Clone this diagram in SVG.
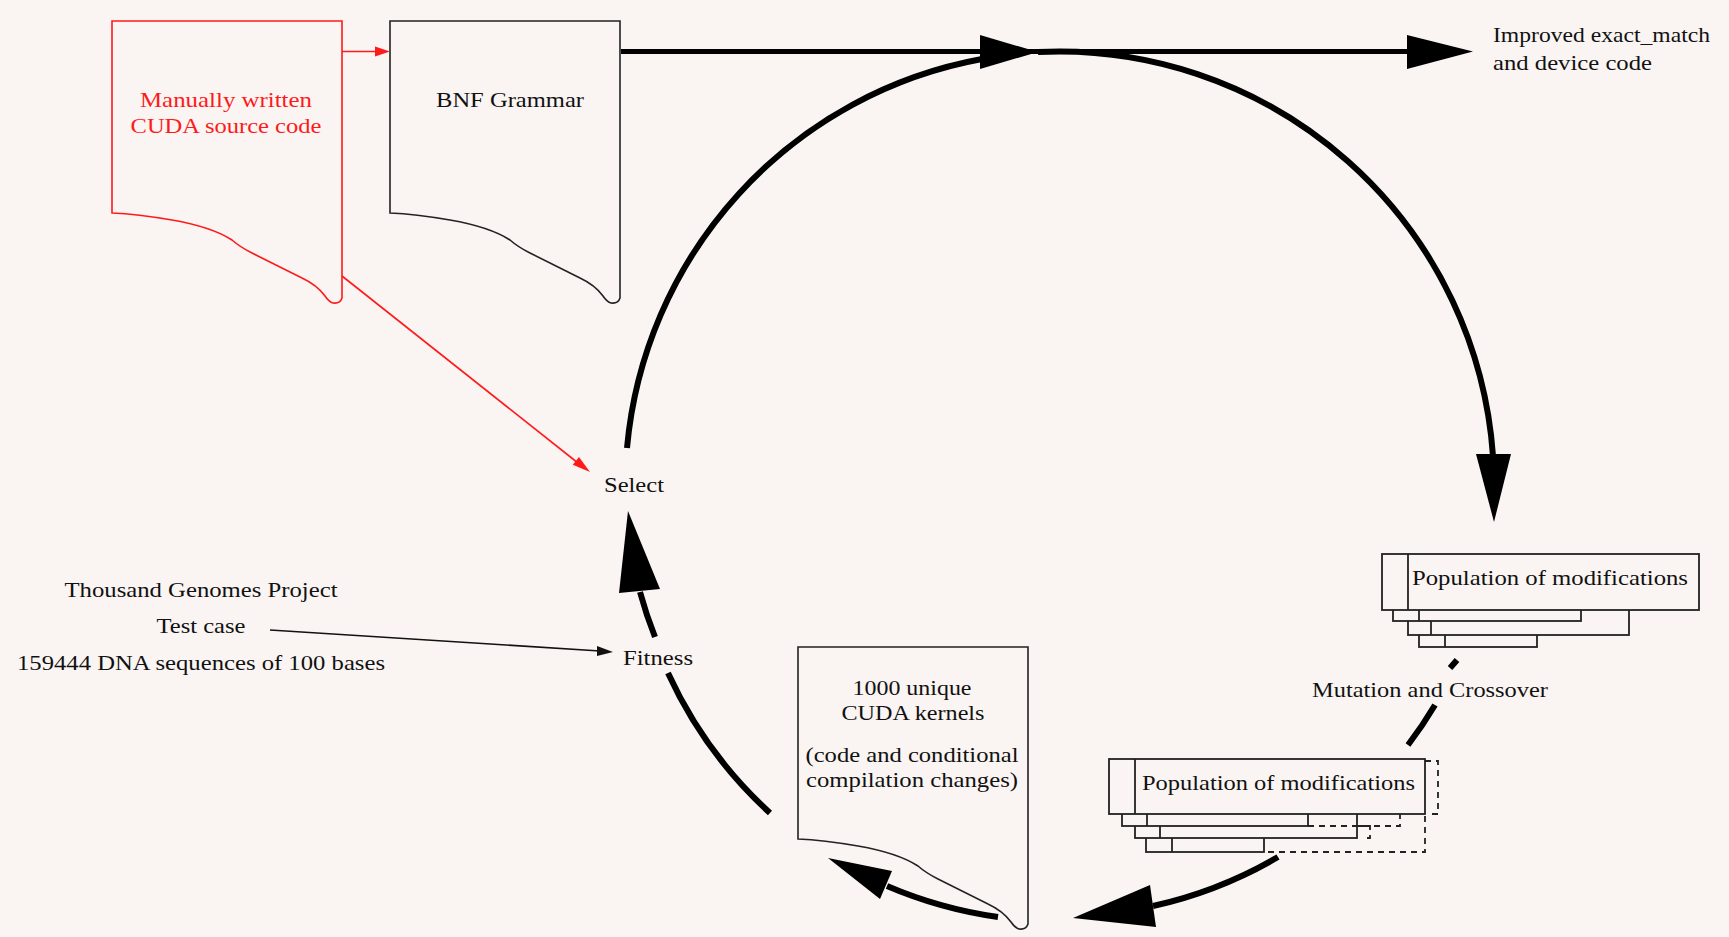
<svg xmlns="http://www.w3.org/2000/svg" xmlns:xlink="http://www.w3.org/1999/xlink" width="1729" height="937" viewBox="0 0 1729 937">
<style>
  .t { font-family: "Liberation Serif", "Times New Roman", serif; font-size: 22px; fill: #111; }
  .tr { font-family: "Liberation Serif", "Times New Roman", serif; font-size: 22px; fill: #ff1a1a; }
  .doc { fill: #faf5f3; stroke: #222; stroke-width: 1.6; }
  .docr { fill: #faf5f3; stroke: #ff1a1a; stroke-width: 1.6; }
  .box { fill: #faf5f3; stroke: #222; stroke-width: 1.8; }
  .div { stroke: #222; stroke-width: 1.8; }
  .dash { fill: none; stroke: #222; stroke-width: 1.8; stroke-dasharray: 6 5; }
  .arc { fill: none; stroke: #000; stroke-width: 6; }
  .head { fill: #000; }
</style>
<defs>
  <path id="docShape" d="M0,0 H230 V277 Q228,283 221,282 Q217,281 213,275 Q205,264 190,257 L140,232 Q128,226 120,219 Q100,206 60,199 Q25,193 0,192 Z"/>
</defs>
<rect x="0" y="0" width="1729" height="937" fill="#faf5f3"/>

<g id="manual-cuda">
  <use xlink:href="#docShape" href="#docShape" class="docr" transform="translate(112,21)"/>
  <text class="tr" x="226" y="107" text-anchor="middle" textLength="172" lengthAdjust="spacingAndGlyphs">Manually written</text>
  <text class="tr" x="226" y="133" text-anchor="middle" textLength="191" lengthAdjust="spacingAndGlyphs">CUDA source code</text>
</g>

<g id="bnf-grammar">
  <use xlink:href="#docShape" href="#docShape" class="doc" transform="translate(390,21)"/>
  <text class="t" x="510" y="107" text-anchor="middle" textLength="148" lengthAdjust="spacingAndGlyphs">BNF Grammar</text>
</g>

<g id="output">
  <text class="t" x="1493" y="42" textLength="217" lengthAdjust="spacingAndGlyphs">Improved exact_match</text>
  <text class="t" x="1493" y="70" textLength="159" lengthAdjust="spacingAndGlyphs">and device code</text>
</g>

<g id="population-top">
  <rect class="box" x="1419" y="590" width="118" height="57"/>
  <line class="div" x1="1445" y1="590" x2="1445" y2="647"/>
  <rect class="box" x="1408" y="578" width="221" height="57"/>
  <line class="div" x1="1431" y1="578" x2="1431" y2="635"/>
  <rect class="box" x="1393" y="566" width="188" height="55"/>
  <line class="div" x1="1419" y1="566" x2="1419" y2="621"/>
  <rect class="box" x="1382" y="554" width="317" height="56"/>
  <line class="div" x1="1408" y1="554" x2="1408" y2="610"/>
  <text class="t" x="1412" y="585" textLength="276" lengthAdjust="spacingAndGlyphs">Population of modifications</text>
</g>

<g id="mutation-crossover">
  <text class="t" x="1430" y="697" text-anchor="middle" textLength="236" lengthAdjust="spacingAndGlyphs">Mutation and Crossover</text>
</g>

<g id="population-bottom">
  <rect class="box" x="1146" y="796" width="118" height="56"/>
  <line class="div" x1="1172" y1="796" x2="1172" y2="852"/>
  <rect class="box" x="1135" y="783" width="222" height="55"/>
  <line class="div" x1="1160" y1="783" x2="1160" y2="838"/>
  <rect class="box" x="1122" y="771" width="186" height="55"/>
  <line class="div" x1="1147" y1="771" x2="1147" y2="826"/>
  <rect class="box" x="1109" y="759" width="316" height="55"/>
  <line class="div" x1="1135" y1="759" x2="1135" y2="814"/>
  <path class="dash" d="M1425,761 H1438 V814 H1428"/>
  <path class="dash" d="M1308,826 H1400 V814"/>
  <path class="dash" d="M1357,826 H1370 V838 H1362"/>
  <path class="dash" d="M1268,852 H1425 V814"/>
  <text class="t" x="1142" y="790" textLength="273" lengthAdjust="spacingAndGlyphs">Population of modifications</text>
</g>

<g id="cuda-kernels">
  <use xlink:href="#docShape" href="#docShape" class="doc" transform="translate(798,647)"/>
  <text class="t" x="912" y="695" text-anchor="middle" textLength="119" lengthAdjust="spacingAndGlyphs">1000 unique</text>
  <text class="t" x="913" y="720" text-anchor="middle" textLength="143" lengthAdjust="spacingAndGlyphs">CUDA kernels</text>
  <text class="t" x="912" y="762" text-anchor="middle" textLength="213" lengthAdjust="spacingAndGlyphs">(code and conditional</text>
  <text class="t" x="912" y="787" text-anchor="middle" textLength="212" lengthAdjust="spacingAndGlyphs">compilation changes)</text>
</g>

<g id="select">
  <text class="t" x="604" y="492" textLength="60" lengthAdjust="spacingAndGlyphs">Select</text>
</g>

<g id="fitness">
  <text class="t" x="623" y="665" textLength="70" lengthAdjust="spacingAndGlyphs">Fitness</text>
</g>

<g id="test-case">
  <text class="t" x="201" y="597" text-anchor="middle" textLength="273" lengthAdjust="spacingAndGlyphs">Thousand Genomes Project</text>
  <text class="t" x="201" y="633" text-anchor="middle" textLength="89" lengthAdjust="spacingAndGlyphs">Test case</text>
  <text class="t" x="201" y="670" text-anchor="middle" textLength="368" lengthAdjust="spacingAndGlyphs">159444 DNA sequences of 100 bases</text>
</g>

<g id="connectors">
  <!-- red connectors -->
  <line x1="342" y1="51.5" x2="378" y2="51.5" stroke="#ff1a1a" stroke-width="1.6"/>
  <polygon points="375,46.5 390,51.5 375,56.5" fill="#ff1a1a"/>
  <line x1="342" y1="276" x2="578" y2="463" stroke="#ff1a1a" stroke-width="1.6"/>
  <polygon points="572.8,464.7 590,472 579,456.9" fill="#ff1a1a"/>
  <!-- test case arrow -->
  <line x1="270" y1="630" x2="600" y2="651" stroke="#111" stroke-width="1.6"/>
  <polygon points="597,646 613,652 597,656" fill="#111"/>
  <!-- top output line -->
  <line x1="621" y1="51.5" x2="1410" y2="51.5" stroke="#000" stroke-width="5"/>
  <polygon class="head" points="1407,35 1473,51.5 1407,69"/>
  <!-- evolution cycle -->
  <path class="arc" d="M627,448 A435,435 0 0 1 982,59"/>
  <polygon class="head" points="980,35 1038,52 980,69"/>
  <path class="arc" d="M1038,52 A435,435 0 0 1 1493,456"/>
  <polygon class="head" points="1476,454 1511,454 1494,522"/>
  <path class="arc" d="M1457,660 A435,435 0 0 1 1450,668"/>
  <path class="arc" d="M1435,705 A435,435 0 0 1 1408,745"/>
  <path class="arc" d="M1278,857 A435,435 0 0 1 1153,906"/>
  <polygon class="head" points="1150,885 1156,927 1073,918"/>
  <path class="arc" d="M998,917 A435,435 0 0 1 887,886"/>
  <polygon class="head" points="892,871 880,899 828,858"/>
  <path class="arc" d="M770,813 A435,435 0 0 1 668,673"/>
  <path class="arc" d="M655,637 A435,435 0 0 1 640,592"/>
  <polygon class="head" points="619,593 660,589 628,511"/>
</g>
</svg>
